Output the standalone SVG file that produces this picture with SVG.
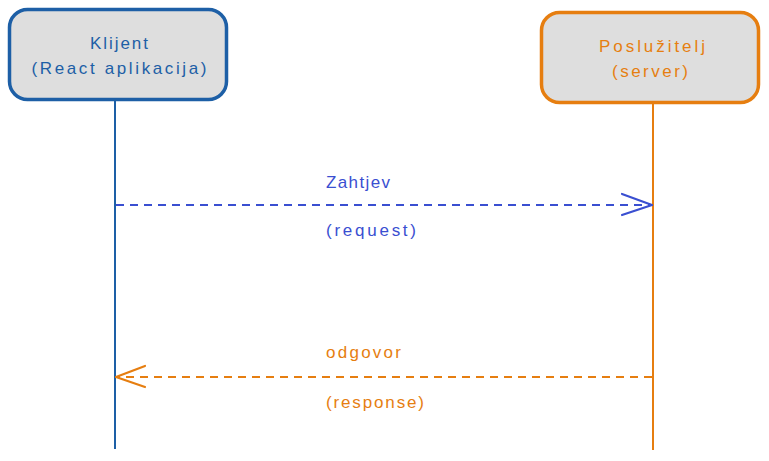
<svg xmlns="http://www.w3.org/2000/svg" width="769" height="461" viewBox="0 0 769 461">
<style>
.box{fill:#dedede;stroke-width:3.5}
.t{font-family:"Liberation Sans","DejaVu Sans",sans-serif;font-size:17px;text-anchor:middle}
.lbl{font-family:"Liberation Sans","DejaVu Sans",sans-serif;font-size:17px}
.blue{fill:#1d5fa6}
.bstroke{stroke:#1d5fa6}
.orange{fill:#e67e10}
.ostroke{stroke:#e67e10}
.req{fill:#3a4fd1}
.life{stroke-width:2;fill:none}
.dash{stroke-width:2.2;stroke-dasharray:8 6;fill:none}
.head{stroke-width:2.2;fill:none;stroke-linecap:round;stroke-linejoin:round}
</style>
<rect width="769" height="461" fill="#ffffff"/>
<g id="client">
<rect class="box bstroke" x="9.5" y="9.5" width="217" height="90" rx="18"/>
<text class="t blue" x="119" y="49" textLength="58" lengthAdjust="spacing">Klijent</text>
<text class="t blue" x="119" y="74" textLength="175" lengthAdjust="spacing">(React aplikacija)</text>
</g>
<g id="server">
<rect class="box ostroke" x="541.5" y="12.5" width="217" height="90" rx="18"/>
<text class="t orange" x="652" y="52" textLength="106" lengthAdjust="spacing">Poslužitelj</text>
<text class="t orange" x="650" y="77" textLength="76" lengthAdjust="spacing">(server)</text>
</g>
<g id="connectors">
<line class="life bstroke" x1="115" y1="100" x2="115" y2="449"/>
<line class="life ostroke" x1="653" y1="103" x2="653" y2="450"/>
<line class="dash" stroke="#3a4fd1" x1="116" y1="205" x2="650" y2="205"/>
<polyline class="head" stroke="#3a4fd1" points="622,194 652,205 622,215"/>
<line class="dash ostroke" x1="652" y1="377" x2="118" y2="377"/>
<polyline class="head ostroke" points="145,366 116,377 145,387"/>
<text class="lbl req" x="326" y="188" textLength="64" lengthAdjust="spacing">Zahtjev</text>
<text class="lbl req" x="326" y="236" textLength="90" lengthAdjust="spacing">(request)</text>
<text class="lbl orange" x="326" y="358" textLength="75" lengthAdjust="spacing">odgovor</text>
<text class="lbl orange" x="326" y="408" textLength="98" lengthAdjust="spacing">(response)</text>
</g>
</svg>
